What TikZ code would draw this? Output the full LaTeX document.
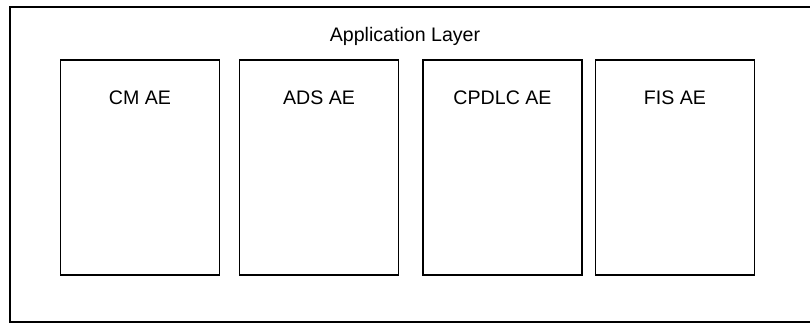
\documentclass[tikz,border=0pt]{standalone}
\usepackage{fontspec}
\setmainfont{Liberation Sans}
\usepackage{tikz}
\usetikzlibrary{positioning}
\tikzset{
layer/.style = { rectangle, draw = black, line width = 0.7pt },
ae box/.style = { rectangle, draw = black, fill = white, line width = 0.7pt, minimum width = 79.5pt, minimum height = 107.5pt, inner sep = 0pt },
ae label/.style = { black, anchor = base, inner sep = 0pt, font = \fontsize{9.8}{12}\selectfont },
}

\begin{document}
\begin{tikzpicture}[x = 0.5pt, y = -0.5pt]
      \useasboundingbox (0, 0) rectangle (810, 324);
      \draw[layer] (10, 7) rectangle (812, 322);
      \node[ae label] (title) at (405, 42) {Application Layer};
      \node[ae box] (cm)    at (140, 167.5)   {};
      \node[ae box] (ads)   at (319, 167.5)   {};
      \node[ae box] (cpdlc) at (502.5, 167.5) {};
      \node[ae box] (fis)   at (675, 167.5)   {};
      \node[ae label] (cm text)    at ([yshift = -22.5pt] cm.north)    {CM AE};
      \node[ae label] (ads text)   at ([yshift = -22.5pt] ads.north)   {ADS AE};
      \node[ae label] (cpdlc text) at ([yshift = -22.5pt] cpdlc.north) {CPDLC AE};
      \node[ae label] (fis text)   at ([yshift = -22.5pt] fis.north)   {FIS AE};
    \end{tikzpicture}
\end{document}
